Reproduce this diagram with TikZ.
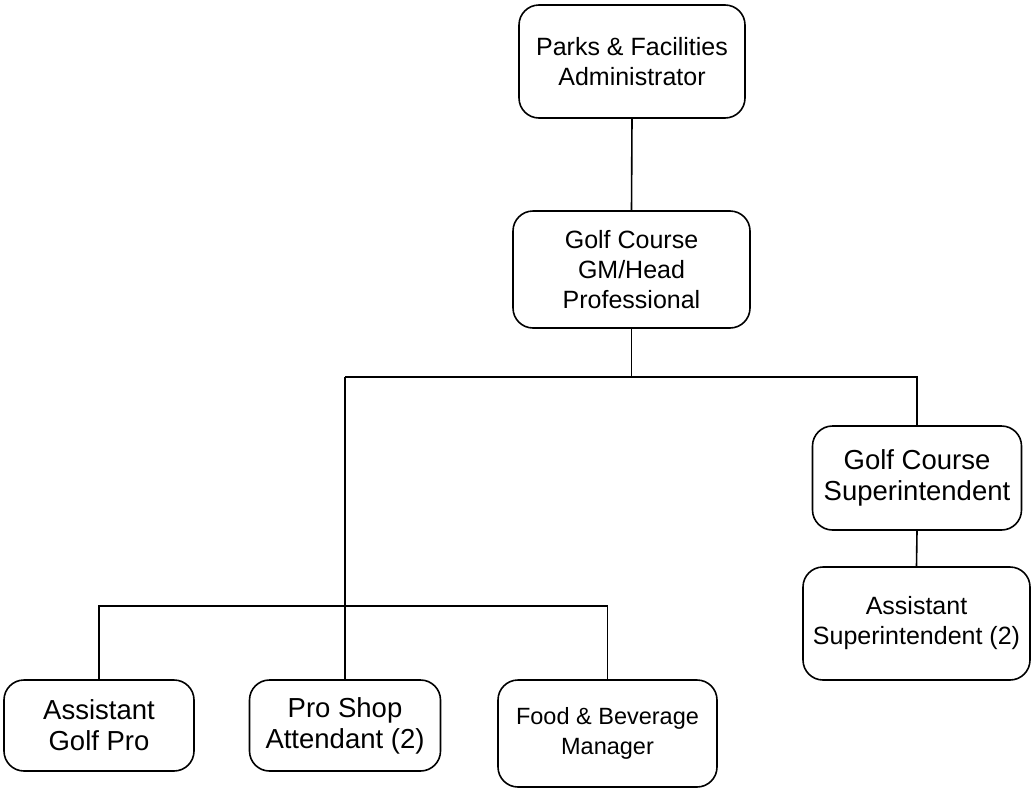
\documentclass[tikz,border=0pt]{standalone}
\usepackage{fontspec}
\setmainfont{Liberation Sans}
\begin{document}
\begin{tikzpicture}[x=1pt,y=-1pt,
  box/.style={draw, line width=1.6pt, rounded corners=20pt, align=center,
    inner sep=0pt, anchor=center},
  link/.style={line width=1.6pt},
  txtA/.style={font=\fontsize{25}{30}\selectfont},
  txtB/.style={font=\fontsize{27.5}{31}\selectfont},
  txtC/.style={font=\fontsize{23.5}{30}\selectfont}]
\useasboundingbox (0,0) rectangle (1031,790);

% boxes
\node[box, txtA, minimum width=226pt, minimum height=113pt] (pfa) at (632,61.5)
  {Parks \& Facilities\\Administrator};
\node[box, txtA, minimum width=237pt, minimum height=117pt] (gm) at (631.5,269.5)
  {Golf Course\\GM/Head\\Professional};
\node[box, txtB, minimum width=209pt, minimum height=104pt] (sup) at (917,478)
  {Golf Course\\Superintendent};
\node[box, txtA, minimum width=227pt, minimum height=113pt] (asup) at (916.5,623.5)
  {Assistant\\Superintendent (2)};
\node[box, txtB, minimum width=190pt, minimum height=91pt] (agp) at (99,725.5)
  {Assistant\\Golf Pro};
\node[box, txtB, minimum width=191pt, minimum height=91pt] (ps) at (345,725.5)
  {Pro Shop\\Attendant (2)};
\node[box, txtC, minimum width=219pt, minimum height=107pt] (fb) at (607.5,733.5)
  {Food \& Beverage\\Manager};

% bus points
\coordinate (bus) at (345,377);
\coordinate (bus2) at (345,606);

% connectors
\draw[link] (pfa.south) -- (gm.north);
\draw[link] (gm.south) -- (gm.south |- bus);
\draw[link] (bus) -| (sup.north);
\draw[link] (bus) -- (ps.north);
\draw[link] (agp.north) |- (fb.north |- bus2) -- (fb.north);
\draw[link] (sup.south) -- (asup.north);
\end{tikzpicture}
\end{document}
